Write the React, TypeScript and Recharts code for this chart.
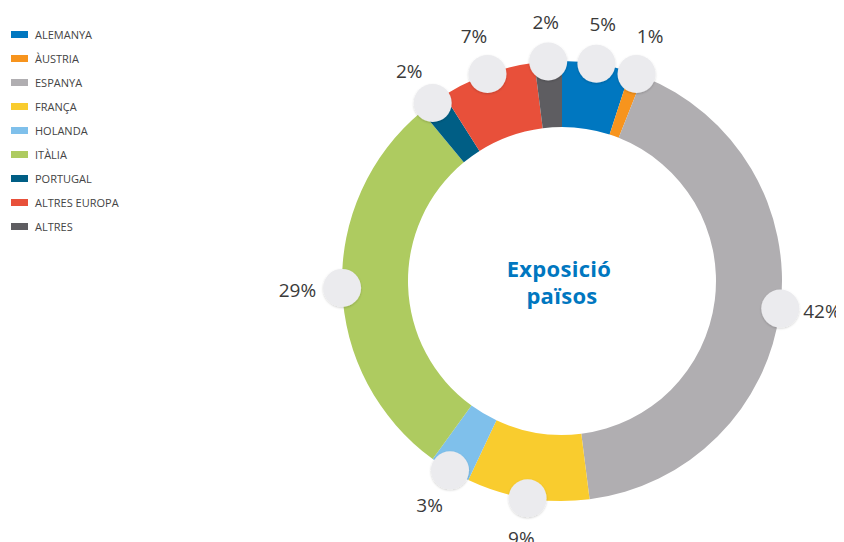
import React from 'react';
import { PieChart, Pie, Cell } from 'recharts';

const categories = ['ALEMANYA', 'ÀUSTRIA', 'ESPANYA', 'FRANÇA', 'HOLANDA', 'ITÀLIA', 'PORTUGAL', 'ALTRES EUROPA', 'ALTRES'];
const values = [5, 1, 42, 9, 3, 29, 2, 7, 2];
const colors = ['#0077C0', '#F7941D', '#B0AEB1', '#F9CC2E', '#7FC0EB', '#AECB60', '#005E85', '#E8503A', '#5E5D61'];
const centerLines = ['Exposició', 'països'];

const data = categories.map((name, i) => ({ name, value: values[i] }));
const RAD = Math.PI / 180;
const FONT = '"Open Sans", "Noto Sans", sans-serif';

const renderLabel = (props: any) => {
  const { cx, cy, midAngle, outerRadius, value, index } = props;
  const cos = Math.cos(-midAngle * RAD);
  const sin = Math.sin(-midAngle * RAD);
  const cxp = cx + outerRadius * cos;
  const cyp = cy + outerRadius * sin;
  let tx = cx + (outerRadius + 40) * cos;
  let ty = cy + (outerRadius + 40) * sin;
  let anchor: 'start' | 'middle' | 'end' = 'middle';
  if (Math.abs(cos) > 0.9) {
    anchor = cos > 0 ? 'start' : 'end';
    tx = cxp + (cos > 0 ? 23 : -26);
    ty = cyp + 2;
  }
  return (
    <g key={`lbl-${index}`}>
      {index === 0 && (
        <g>
          <text x={cx - 3} y={cy - 13} textAnchor="middle" dominantBaseline="central" fill="#0077C0" fontSize={22} fontWeight={700} fontFamily={FONT} letterSpacing={0.3}>
            {centerLines[0]}
          </text>
          <text x={cx} y={cy + 14} textAnchor="middle" dominantBaseline="central" fill="#0077C0" fontSize={22} fontWeight={700} fontFamily={FONT} letterSpacing={0.3}>
            {centerLines[1]}
          </text>
        </g>
      )}
      <circle cx={cxp} cy={cyp} r={19} fill="#EBEBEE" filter="url(#sh)" />
      <text x={tx} y={ty} textAnchor={anchor} dominantBaseline="central" fill="#3a3a3a" fontSize={19} fontFamily={FONT}>
        {`${value}%`}
      </text>
    </g>
  );
};

const Legendbox = () => (
  <div style={{ position: 'absolute', left: 3, top: 14, fontFamily: FONT }}>
    {categories.map((c, i) => (
      <div key={c} style={{ height: 24, display: 'flex', alignItems: 'center' }}>
        <span style={{ display: 'inline-block', width: 17, height: 7, background: colors[i], marginRight: 7 }} />
        <span style={{ fontSize: 11, color: '#444' }}>{c}</span>
      </div>
    ))}
  </div>
);

export default function App() {
  return (
    <div style={{ position: 'relative', width: 836, height: 534 }}>
      <PieChart width={836} height={534} margin={{ top: 0, right: 0, bottom: 0, left: 0 }} style={{ fontFamily: FONT }}>
        <defs>
          <filter id="sh" x="-50%" y="-50%" width="200%" height="200%">
            <feDropShadow dx="0" dy="1" stdDeviation="1.2" floodColor="#000" floodOpacity="0.18" />
          </filter>
        </defs>
        <Pie
          data={data}
          dataKey="value"
          nameKey="name"
          cx={554}
          cy={273}
          innerRadius={154}
          outerRadius={220}
          startAngle={90}
          endAngle={-270}
          stroke="none"
          label={renderLabel}
          labelLine={false}
          isAnimationActive={false}
        >
          {data.map((d, i) => (
            <Cell key={d.name} fill={colors[i]} />
          ))}
        </Pie>
      </PieChart>
      <Legendbox />
    </div>
  );
}
